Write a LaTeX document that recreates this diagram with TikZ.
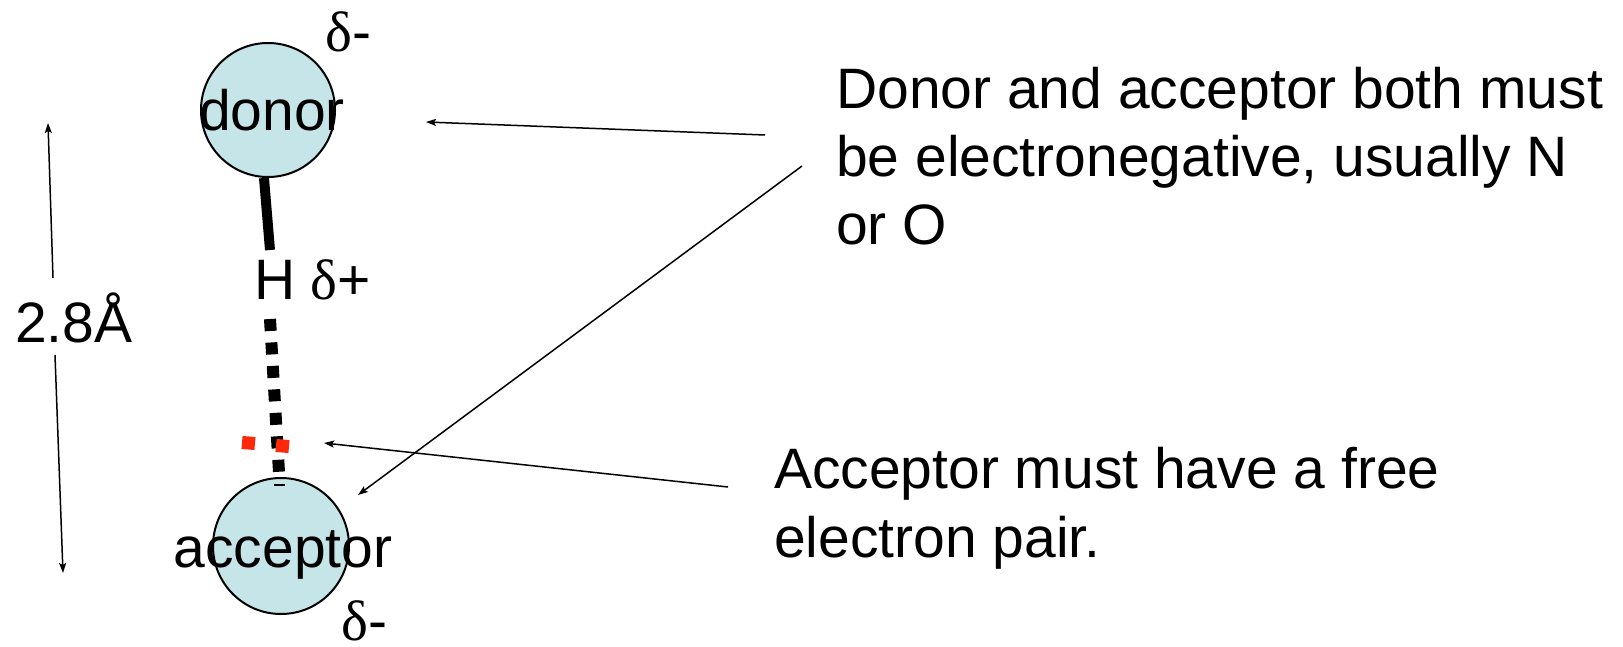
\documentclass[tikz,border=0pt]{standalone}
\usepackage{fontspec}
\setmainfont{Liberation Sans}
\newfontfamily\greekfont{Liberation Serif}
\usetikzlibrary{arrows.meta}
\definecolor{atomfill}{RGB}{197,229,233}
\definecolor{pairred}{RGB}{255,40,10}
\begin{document}
\begin{tikzpicture}[x=1pt,y=-1pt,
  txt/.style={inner sep=0pt, font=\fontsize{57}{68.5}\selectfont},
  atom/.style={circle, draw=black, line width=2pt, fill=atomfill, minimum size=134pt, inner sep=0pt},
  pointer/.style={line width=1.5pt, -{Stealth[length=10pt,width=7pt,inset=2pt]}},
  bond/.style={line width=10pt},
  hbond/.style={line width=12pt, dash pattern=on 12pt off 11.5pt},
  pairdot/.style={rectangle, fill=pairred, minimum size=13pt, inner sep=0pt},
]
\useasboundingbox (0,0) rectangle (1623,647);

% atoms
\node[atom] (donor) at (268,110) {};
\node[atom, minimum size=136pt] (acc) at (281,546) {};

% bond and hydrogen bond
\coordinate (bondtop) at (264,178);
\coordinate (bondbot) at (270,250);
\draw[bond] (bondtop) -- (bondbot);
\coordinate (hbtop) at (270,319);
\coordinate (hbbot) at (279,472);
\draw[hbond] (hbtop) -- (hbbot);

% lone pair
\node[pairdot, rotate=-5] (lp1) at (248.5,443) {};
\node[pairdot, rotate=-5] (lp2) at (282.5,446) {};
\coordinate (mini1) at (274,485);
\coordinate (mini2) at (285,485);
\draw[line width=2pt] (mini1) -- (mini2);

% texts on atoms
\node[txt, anchor=base] (donortxt) at (272,131) {donor};
\node[txt, anchor=base] (acctxt) at (283,567) {acceptor};
\node[txt, anchor=base west] (dtop) at (325,52) {{\greekfont δ}-};
\node[txt, anchor=base west] (H) at (254,299) {H};
\node[txt, anchor=base west] (dplus) at (310,299) {{\greekfont δ}+};
\node[txt, anchor=base west] (dbot) at (341,640) {{\greekfont δ}-};

% distance
\node[txt, anchor=base west] (dist) at (15,342) {2.8Å};
\coordinate (upS) at (53,278);
\coordinate (upE) at (48,123);
\coordinate (dnS) at (55,355);
\coordinate (dnE) at (63,573);
\draw[pointer] (upS) -- (upE);
\draw[pointer] (dnS) -- (dnE);

% explanations (base anchor = baseline of the last line)
\node[txt, anchor=base west, align=left] (t1) at (836,245)
  {Donor and acceptor both must\\be electronegative, usually N\\or O};
\node[txt, anchor=base west, align=left] (t2) at (774,557)
  {Acceptor must have a free\\electron pair.};

\coordinate (a1s) at (765,135);
\coordinate (a1e) at (426,122);
\coordinate (a2s) at (802,166);
\coordinate (a2e) at (358,495);
\coordinate (a3s) at (728,487);
\coordinate (a3e) at (324,443);
\draw[pointer] (a1s) -- (a1e);
\draw[pointer] (a2s) -- (a2e);
\draw[pointer] (a3s) -- (a3e);
\end{tikzpicture}
\end{document}
